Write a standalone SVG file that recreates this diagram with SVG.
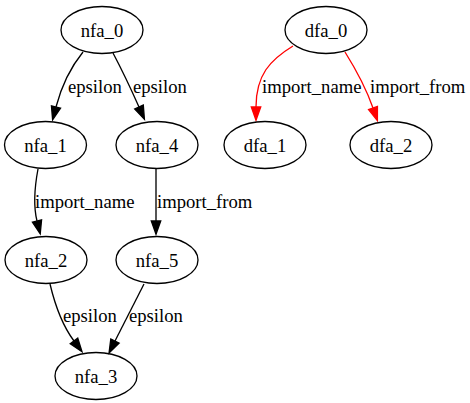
<svg xmlns="http://www.w3.org/2000/svg" width="470" height="403" viewBox="0 0 470 403">
<style>
text{font-family:"Liberation Serif","Times New Roman",serif;font-size:18.67px;fill:#000}
.node ellipse{fill:none;stroke:#000;stroke-width:1.33}
.node text{text-anchor:middle}
.edge path{fill:none;stroke-width:1.33}
.blk{stroke:#000}
.red{stroke:#f00}
</style>
<defs>
<marker id="ab" markerUnits="userSpaceOnUse" refX="0" refY="0" markerWidth="16" markerHeight="12" viewBox="-1 -6 16 12" orient="auto" overflow="visible">
<path d="M0,-4.7 L13.3,0 L0,4.7 Z" fill="#000" stroke="#000" stroke-width="1.33"/>
</marker>
<marker id="ar" markerUnits="userSpaceOnUse" refX="0" refY="0" markerWidth="16" markerHeight="12" viewBox="-1 -6 16 12" orient="auto" overflow="visible">
<path d="M0,-4.7 L13.3,0 L0,4.7 Z" fill="#f00" stroke="#f00" stroke-width="1.33"/>
</marker>
</defs>
<rect width="470" height="403" fill="#fff"/>
<g id="edges">
<g class="edge"><path class="blk" d="M83,52 C70,68 61,88 56,107" marker-end="url(#ab)"/><text x="68" y="93">epsilon</text></g>
<g class="edge"><path class="blk" d="M113,53 C122,70 131,89 139,107" marker-end="url(#ab)"/><text x="133" y="93">epsilon</text></g>
<g class="edge"><path class="blk" d="M38,169 C35,185 33,205 37,221" marker-end="url(#ab)"/><text x="35" y="208">import_name</text></g>
<g class="edge"><path class="blk" d="M156,169 L156,221" marker-end="url(#ab)"/><text x="157" y="208">import_from</text></g>
<g class="edge"><path class="blk" d="M50,284 C55,305 62,325 74,341" marker-end="url(#ab)"/><text x="63" y="322">epsilon</text></g>
<g class="edge"><path class="blk" d="M144,284 C135,302 124,323 115,341" marker-end="url(#ab)"/><text x="129" y="322">epsilon</text></g>
<g class="edge"><path class="red" d="M293,46 C270,60 256,75 256,107" marker-end="url(#ar)"/><text x="262" y="93">import_name</text></g>
<g class="edge"><path class="red" d="M345,52 C355,68 366,88 373,108" marker-end="url(#ar)"/><text x="370" y="93">import_from</text></g>
</g>
<g id="nfa_0" class="node"><ellipse cx="102" cy="30" rx="41" ry="23.5"/><text x="102" y="36.5">nfa_0</text></g>
<g id="nfa_1" class="node"><ellipse cx="45.5" cy="145" rx="41" ry="23.5"/><text x="45.5" y="151.5">nfa_1</text></g>
<g id="nfa_4" class="node"><ellipse cx="157" cy="145" rx="41" ry="23.5"/><text x="157" y="151.5">nfa_4</text></g>
<g id="nfa_2" class="node"><ellipse cx="46" cy="260" rx="41" ry="23.5"/><text x="46" y="266.5">nfa_2</text></g>
<g id="nfa_5" class="node"><ellipse cx="157" cy="260" rx="41" ry="23.5"/><text x="157" y="266.5">nfa_5</text></g>
<g id="nfa_3" class="node"><ellipse cx="96" cy="376" rx="41" ry="23.5"/><text x="96" y="382.5">nfa_3</text></g>
<g id="dfa_0" class="node"><ellipse cx="326" cy="30" rx="41" ry="23.5"/><text x="326" y="36.5">dfa_0</text></g>
<g id="dfa_1" class="node"><ellipse cx="265" cy="145" rx="41" ry="23.5"/><text x="265" y="151.5">dfa_1</text></g>
<g id="dfa_2" class="node"><ellipse cx="391" cy="145" rx="41" ry="23.5"/><text x="391" y="151.5">dfa_2</text></g>
</svg>
